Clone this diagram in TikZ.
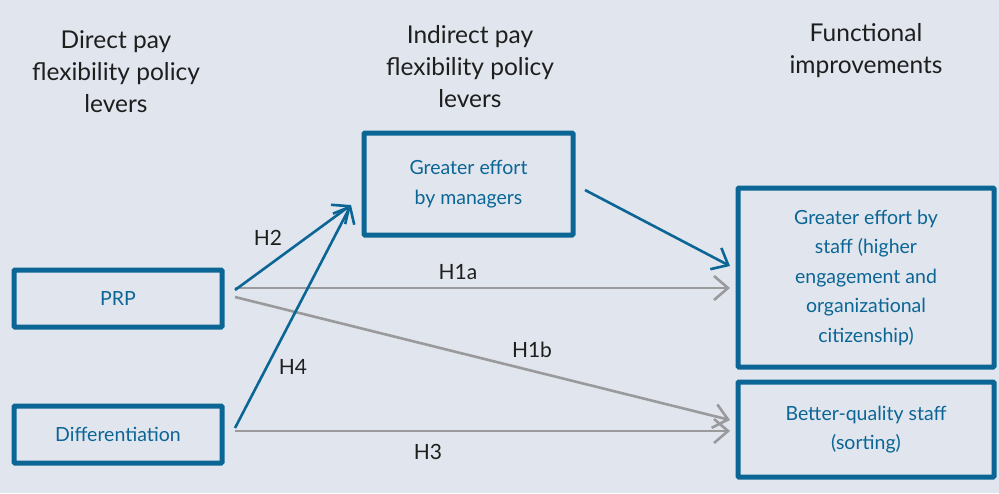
\documentclass[tikz,border=0pt]{standalone}
\usepackage{fontspec}
\setmainfont{Lato}
\usetikzlibrary{arrows.meta}
\definecolor{bgpanel}{HTML}{E1E6EE}
\definecolor{leverblue}{HTML}{0B6595}
\definecolor{linkgray}{HTML}{9A9A9C}
\definecolor{inkdark}{HTML}{1E1E1E}
\begin{document}
\begin{tikzpicture}[x=1pt,y=-1pt,
  heading/.style={align=center,text=inkdark,font=\fontsize{24.5}{32}\selectfont},
  leverbox/.style={draw=leverblue,line width=5pt,text=leverblue,align=center,
    font=\fontsize{19.5}{29.5}\selectfont,inner sep=0pt,rounded corners=1pt},
  hyp/.style={text=inkdark,font=\fontsize{21}{24}\selectfont},
  tipV/.style={-{Straight Barb[length=14pt,width=24pt,line width=2.6pt]}},
  bluelink/.style={tipV,draw=leverblue,line width=2.6pt},
  graylink/.style={tipV,draw=linkgray,line width=2.6pt}]
  % panel background
  \fill[bgpanel] (0,0) rectangle (999,493);
  \useasboundingbox (0,0) rectangle (999,493);

  % column headings
  \node[heading] (hdirect) at (116,72) {Direct pay\\flexibility policy\\levers};
  \node[heading] (hindirect) at (470,67) {Indirect pay\\flexibility policy\\levers};
  \node[heading] (hfunc) at (866,51) {Functional\\improvements};

  % policy boxes
  \node[leverbox,minimum width=208pt,minimum height=57pt] (prp) at (118,298.5) {PRP};
  \node[leverbox,minimum width=208pt,minimum height=57pt] (diff) at (118,434.5) {Differentiation};
  \node[leverbox,minimum width=209pt,minimum height=102pt] (mgr) at (468.5,184) {Greater effort\\by managers};
  \node[leverbox,minimum width=256pt,minimum height=179pt] (staff) at (866,277.5)
    {Greater effort by\\staff (higher\\engagement and\\organizational\\citizenship)};
  \node[leverbox,minimum width=256pt,minimum height=95pt] (sort) at (866,429.5)
    {Better-quality staff\\(sorting)};

  % connector end points
  \coordinate (prpA) at (235,288);
  \coordinate (prpB) at (235,297);
  \coordinate (prpC) at (235,290);
  \coordinate (diffA) at (235,428);
  \coordinate (diffB) at (235,431);
  \coordinate (mgrIn) at (351,205);
  \coordinate (mgrOut) at (585,190);
  \coordinate (staffIn) at (730,266);
  \coordinate (staffGray) at (730,288);
  \coordinate (sortA) at (730,420);
  \coordinate (sortB) at (730,431);

  % gray direct links
  \draw[graylink] (prpA) -- (staffGray);
  \draw[graylink] (prpB) -- (sortA);
  \draw[graylink] (diffB) -- (sortB);
  % blue indirect links
  \draw[bluelink] (prpC) -- (mgrIn);
  \draw[bluelink] (diffA) -- (mgrIn);
  \draw[bluelink] (mgrOut) -- (staffIn);

  % hypothesis labels
  \node[hyp] (h2) at (268,238) {H2};
  \node[hyp] (h1a) at (458,272) {H1a};
  \node[hyp] (h1b) at (532,350) {H1b};
  \node[hyp] (h4) at (293,367) {H4};
  \node[hyp] (h3) at (428,452) {H3};
\end{tikzpicture}
\end{document}
